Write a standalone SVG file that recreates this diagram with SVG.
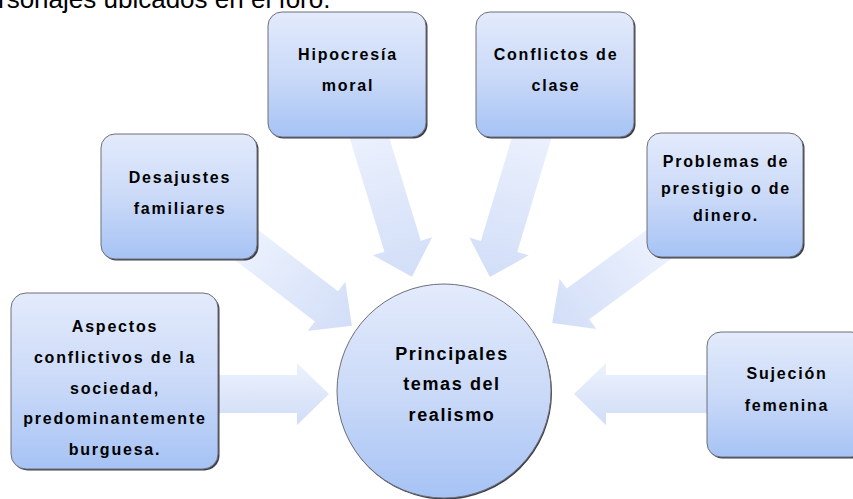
<svg xmlns="http://www.w3.org/2000/svg" width="853" height="499" viewBox="0 0 853 499">
<defs>
<linearGradient id="gbox" x1="0" y1="0" x2="0" y2="1">
<stop offset="0" stop-color="#e3ebfc"/>
<stop offset="0.5" stop-color="#cbdaf8"/>
<stop offset="1" stop-color="#a6c3f5"/>
</linearGradient>
<linearGradient id="ga" x1="0" y1="0" x2="1" y2="0">
<stop offset="0" stop-color="#edf2fd"/>
<stop offset="1" stop-color="#d2def8"/>
</linearGradient>
<linearGradient id="gh" x1="0" y1="0" x2="0" y2="1">
<stop offset="0" stop-color="#edf2fd"/>
<stop offset="1" stop-color="#d0ddf7"/>
</linearGradient>
</defs>
<style>
.box{fill:url(#gbox);stroke:#6f6f78;stroke-width:1}
.shadow{fill:#3e3e4a}
.t{font-family:"Liberation Sans",Arial,sans-serif;font-weight:bold;font-size:16px;letter-spacing:1.8px;fill:#000;text-anchor:middle}
.tc{font-size:18px;letter-spacing:1.6px}
.arr{fill:url(#ga)}
.arrh{fill:url(#gh)}
</style>
<rect width="853" height="499" fill="#fff"/>
<text x="-2" y="7.5" font-family="'Liberation Sans',Arial,sans-serif" font-size="26" fill="#000">rsonajes ubicados en el foro.</text>

<g id="connectors">
<polygon class="arr" transform="translate(364,120) rotate(73)" points="0,-19 132,-19 132,-31 164,0 132,31 132,19 0,19"/>
<polygon class="arr" transform="translate(537,120) rotate(106.7)" points="0,-19 132,-19 132,-31 164,0 132,31 132,19 0,19"/>
<polygon class="arr" transform="translate(240,240) rotate(37.5)" points="0,-19 109,-19 109,-31 141,0 109,31 109,19 0,19"/>
<polygon class="arr" transform="translate(665,240) rotate(143.7)" points="0,-19 108,-19 108,-31 140,0 108,31 108,19 0,19"/>
<polygon class="arrh" points="200,375 297,375 297,363 329,394 297,425 297,413 200,413"/>
<polygon class="arrh" points="720,375 606,375 606,363 574,394 606,425 606,413 720,413"/>
</g>

<g id="hipocresia">
<rect class="shadow" x="269.5" y="13.5" width="158" height="125" rx="14"/>
<rect class="box" x="268" y="12" width="158" height="125" rx="14"/>
<text class="t" x="348" y="60">Hipocresía</text>
<text class="t" x="348" y="91">moral</text>
</g>

<g id="conflictos">
<rect class="shadow" x="477.5" y="13.5" width="158" height="125" rx="14"/>
<rect class="box" x="476" y="12" width="158" height="125" rx="14"/>
<text class="t" x="556" y="60">Conflictos de</text>
<text class="t" x="556" y="91">clase</text>
</g>

<g id="desajustes">
<rect class="shadow" x="102.5" y="135.5" width="156" height="125" rx="14"/>
<rect class="box" x="101" y="134" width="156" height="125" rx="14"/>
<text class="t" x="180" y="183">Desajustes</text>
<text class="t" x="180" y="214">familiares</text>
</g>

<g id="problemas">
<rect class="shadow" x="648.5" y="134.5" width="156" height="124" rx="14"/>
<rect class="box" x="647" y="133" width="156" height="124" rx="14"/>
<text class="t" x="726" y="167">Problemas de</text>
<text class="t" x="726" y="194">prestigio o de</text>
<text class="t" x="726" y="221">dinero.</text>
</g>

<g id="aspectos">
<rect class="shadow" x="12.5" y="294.5" width="207" height="176" rx="15"/>
<rect class="box" x="11" y="293" width="207" height="176" rx="15"/>
<text class="t" x="115" y="332">Aspectos</text>
<text class="t" x="115" y="363">conflictivos de la</text>
<text class="t" x="115" y="393.5">sociedad,</text>
<text class="t" x="115" y="424">predominantemente</text>
<text class="t" x="115" y="454.5">burguesa.</text>
</g>

<g id="sujecion">
<rect class="shadow" x="708.5" y="333.5" width="158" height="125" rx="14"/>
<rect class="box" x="707" y="332" width="158" height="125" rx="14"/>
<text class="t" x="787" y="379">Sujeción</text>
<text class="t" x="787" y="411">femenina</text>
</g>

<g id="principales">
<circle cx="445" cy="392.5" r="107" fill="#3e3e4a"/>
<circle class="box" cx="444" cy="391" r="107"/>
<text class="t tc" x="452" y="360">Principales</text>
<text class="t tc" x="452" y="390">temas del</text>
<text class="t tc" x="452" y="421">realismo</text>
</g>
</svg>
